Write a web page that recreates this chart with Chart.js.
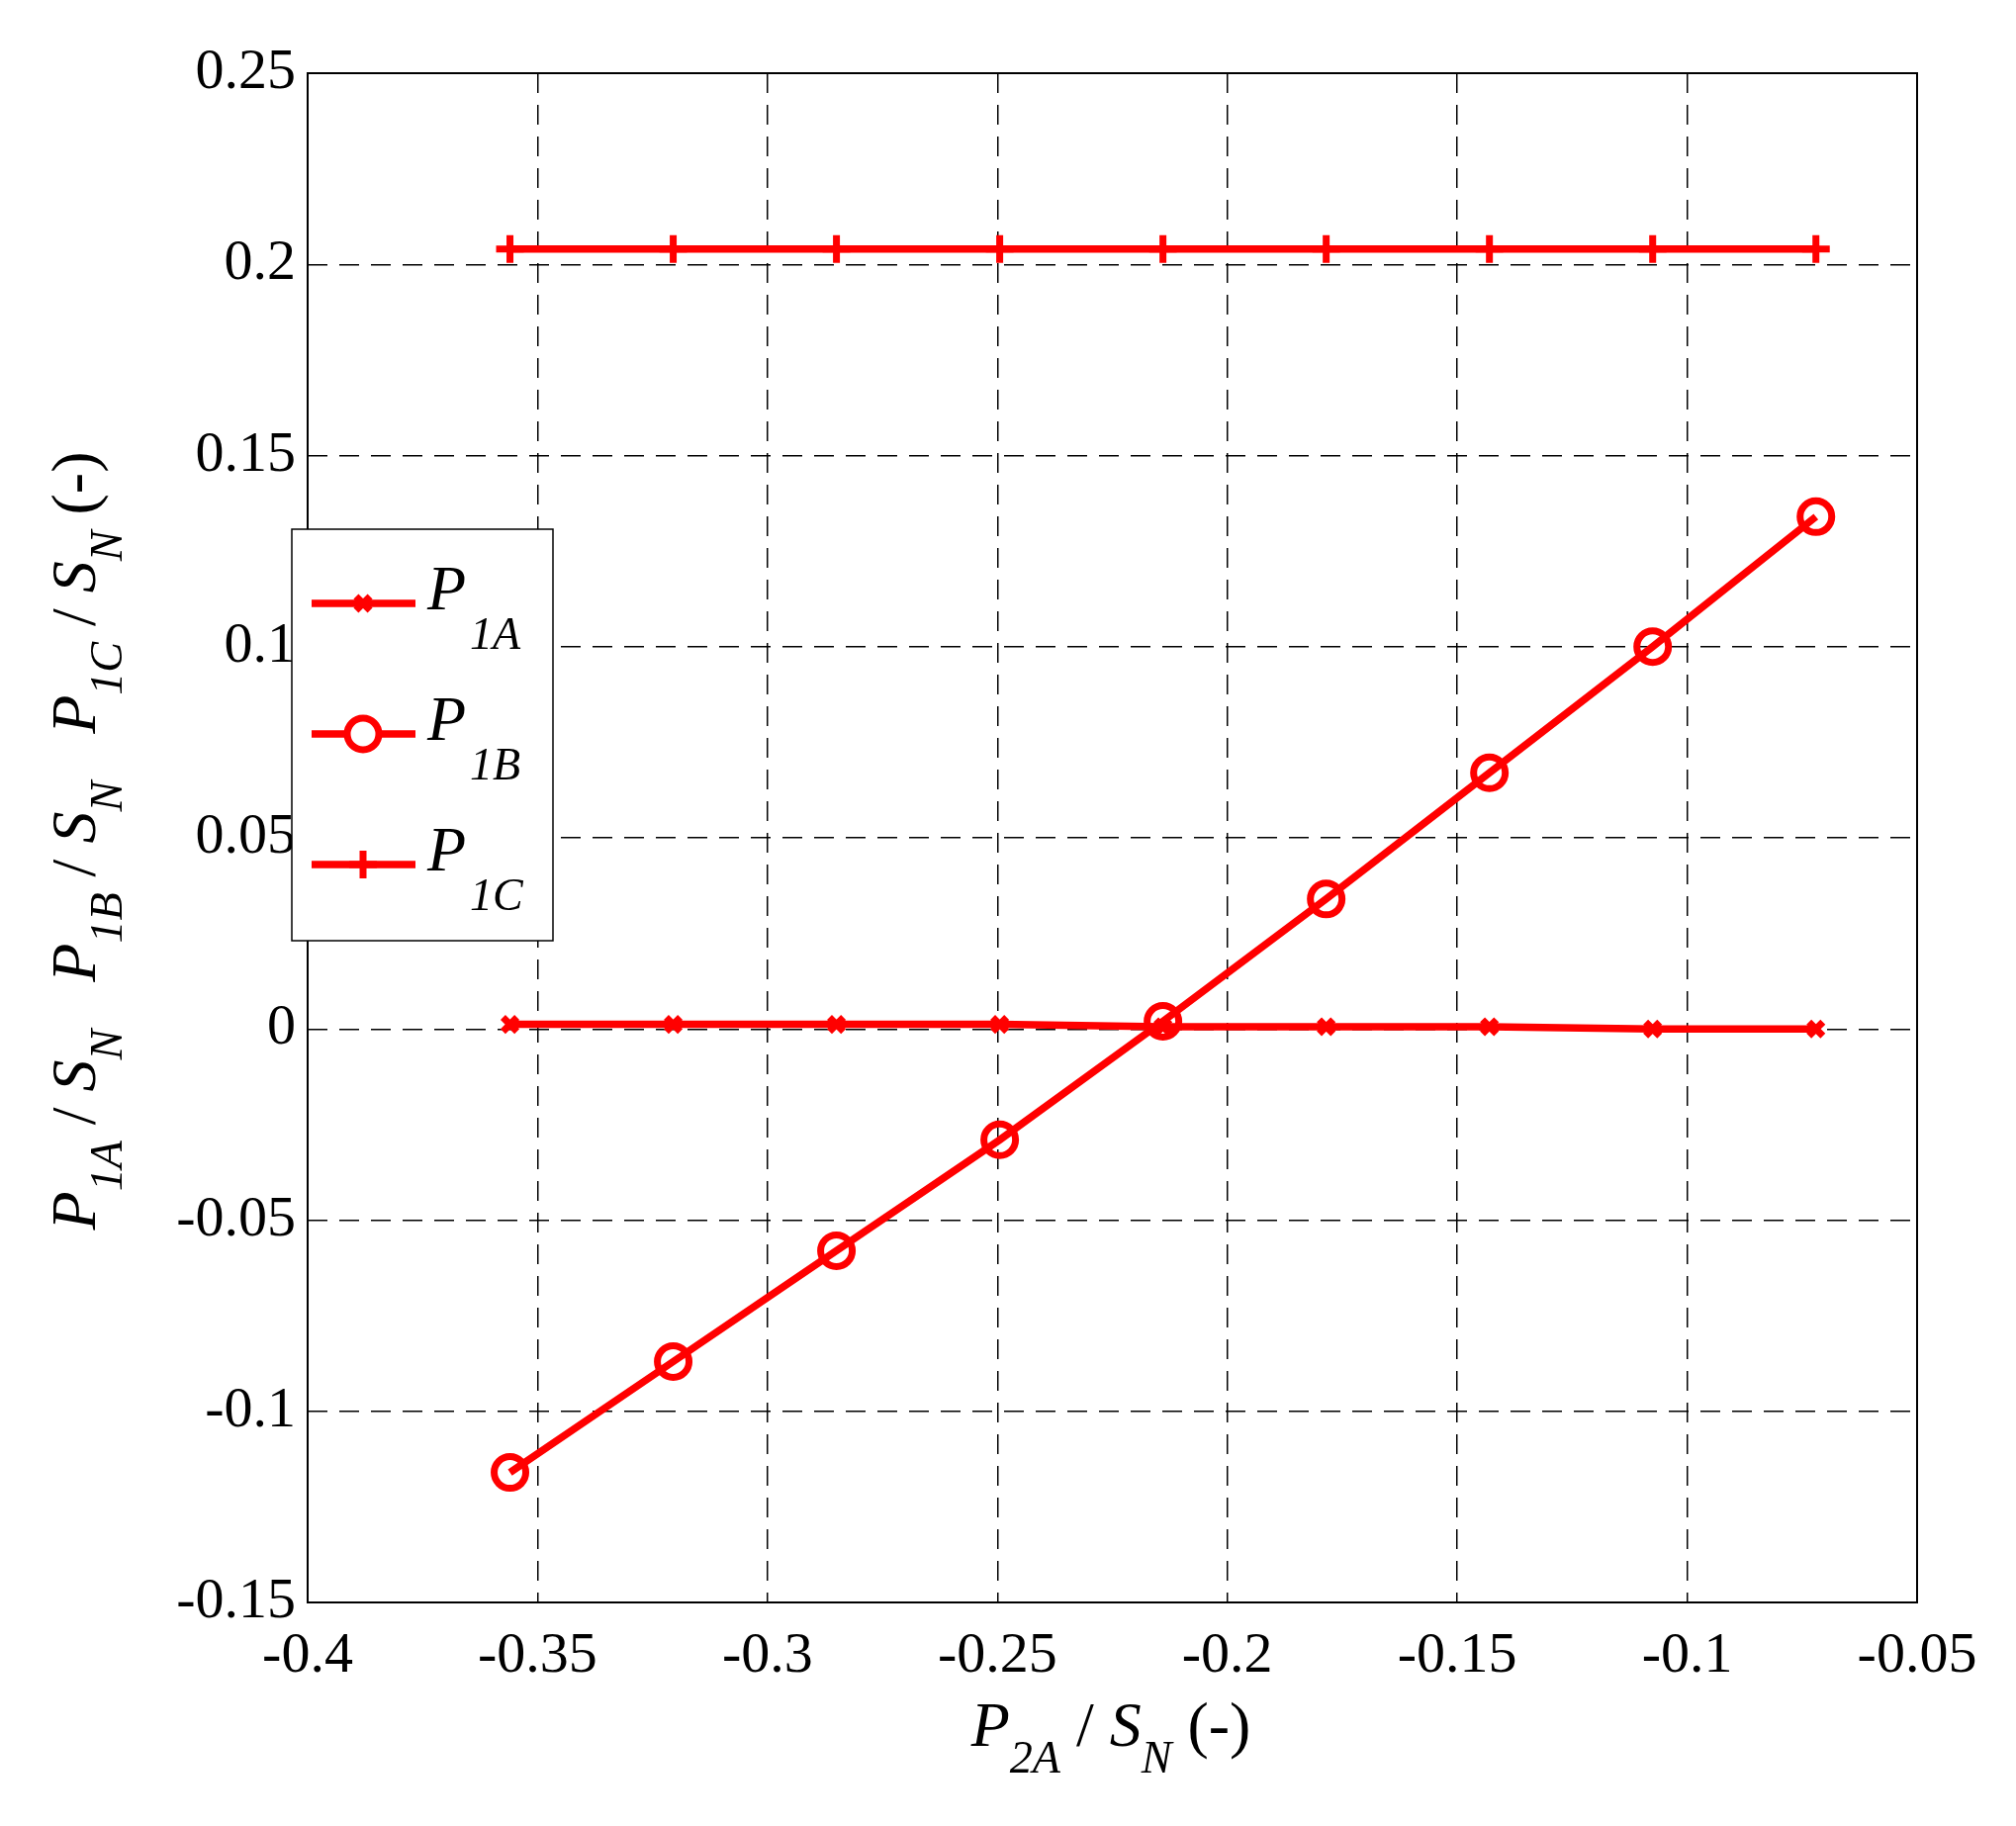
<!DOCTYPE html>
<html>
<head>
<meta charset="utf-8">
<script src="https://cdn.jsdelivr.net/npm/chart.js@4/dist/chart.umd.min.js"></script>
<style>body{margin:0;background:#fff}canvas{display:block}</style>
</head>
<body>
<canvas id="c" width="2038" height="1846"></canvas>
<script>
const xVals = [-0.356, -0.3205, -0.285, -0.2495, -0.214, -0.1785, -0.143, -0.1075, -0.072];
const p1A = [0.0012, 0.0012, 0.0012, 0.0012, 0.0006, 0.0006, 0.0006, 0.0, 0.0];
const p1B = [-0.116, -0.087, -0.058, -0.029, 0.002, 0.034, 0.067, 0.100, 0.134];
const p1C = [0.204, 0.204, 0.204, 0.204, 0.204, 0.204, 0.204, 0.204, 0.204];
const seriesNames = ["1A", "1B", "1C"];

const RED = "#ff0000";
const SERIF = "'Liberation Serif', 'DejaVu Serif', serif";

function toPts(ys) { return xVals.map((x, i) => ({ x: x, y: ys[i] })); }

// draws text segments, sub ones are lowered and smaller
function richText(ctx, segs, x, y, size) {
  let w = 0;
  const measure = s => {
    ctx.font = (s.it ? "italic " : "") + (s.sub ? size * 0.72 : size) + "px " + SERIF;
    return ctx.measureText(s.t).width;
  };
  segs.forEach(s => w += measure(s));
  let cx = x - w / 2;
  segs.forEach(s => {
    const sw = measure(s);
    ctx.fillText(s.t, cx, s.sub ? y + size * 0.42 : y);
    cx += sw;
  });
}

const extras = {
  id: "extras",
  afterDraw(chart) {
    const ctx = chart.ctx, a = chart.chartArea;
    ctx.save();
    ctx.fillStyle = "#000";
    ctx.textBaseline = "alphabetic";
    // frame
    ctx.strokeStyle = "#000"; ctx.lineWidth = 2;
    ctx.strokeRect(a.left, a.top, a.right - a.left, a.bottom - a.top);
    // x title
    richText(ctx, [
      { t: "P", it: 1 }, { t: "2A", it: 1, sub: 1 }, { t: " / " }, { t: "S", it: 1 }, { t: "N", it: 1, sub: 1 }, { t: " (-)" }
    ], 1123, 1765, 64);
    // y title
    ctx.save();
    ctx.translate(96, 850);
    ctx.rotate(-Math.PI / 2);
    const ys = [];
    seriesNames.forEach((n, i) => {
      ys.push({ t: (i ? "   " : "") + "P", it: 1 }, { t: n, it: 1, sub: 1 }, { t: " / " }, { t: "S", it: 1 }, { t: "N", it: 1, sub: 1 });
    });
    ys.push({ t: " (-)" });
    richText(ctx, ys, 0, 0, 64);
    ctx.restore();
    // legend
    const lx = 295, ly = 535, lw = 264, lh = 416;
    ctx.fillStyle = "#fff"; ctx.fillRect(lx, ly, lw, lh);
    ctx.strokeStyle = "#000"; ctx.lineWidth = 1.5; ctx.strokeRect(lx, ly, lw, lh);
    chart.data.datasets.forEach((ds, i) => {
      const cy = ly + 75 + i * 132;
      ctx.strokeStyle = RED; ctx.lineWidth = ds.borderWidth;
      ctx.beginPath(); ctx.moveTo(lx + 20, cy); ctx.lineTo(lx + 125, cy); ctx.stroke();
      ctx.fillStyle = "#fff";
      ctx.lineWidth = ds.pointBorderWidth;
      Chart.helpers.drawPoint(ctx, {
        pointStyle: ds.pointStyle, radius: ds.pointRadius, borderWidth: ds.pointBorderWidth
      }, lx + 72, cy);
      ctx.fillStyle = "#000";
      ctx.textAlign = "left";
      ctx.font = "italic 64px " + SERIF;
      ctx.fillText("P", lx + 137, cy + 6);
      ctx.font = "italic 46px " + SERIF;
      ctx.fillText(seriesNames[i], lx + 180, cy + 46);
    });
    ctx.restore();
  }
};

function mk(data, style, r) {
  return {
    data: toPts(data), borderColor: RED, backgroundColor: "rgba(0,0,0,0)",
    pointBorderColor: RED, pointBackgroundColor: "rgba(0,0,0,0)",
    borderWidth: 7.5, pointStyle: style, pointRadius: r, pointBorderWidth: 7, showLine: true
  };
}

const grid = { color: "#000", lineWidth: 1.5, drawTicks: false };
const tickFmt = v => String(parseFloat(v.toFixed(2)));

new Chart(document.getElementById("c"), {
  type: "scatter",
  data: { datasets: [mk(p1A, "crossRot", 10), mk(p1B, "circle", 16), mk(p1C, "cross", 14)] },
  plugins: [extras],
  options: {
    responsive: false, devicePixelRatio: 1, animation: false,
    layout: { padding: { top: 74, right: 100, left: 0, bottom: 0 } },
    plugins: { legend: { display: false }, tooltip: { enabled: false } },
    scales: {
      x: {
        min: -0.4, max: -0.05,
        ticks: { stepSize: 0.05, callback: tickFmt, color: "#000", padding: 20, font: { family: SERIF, size: 58 } },
        grid: grid, border: { display: false, dash: [20, 12] },
        afterFit: s => { s.height = 226; }
      },
      y: {
        min: -0.15, max: 0.25,
        ticks: { stepSize: 0.05, callback: tickFmt, color: "#000", padding: 12, font: { family: SERIF, size: 58 } },
        grid: grid, border: { display: false, dash: [20, 12] },
        afterFit: s => { s.width = 311; }
      }
    }
  }
});
</script>
</body>
</html>
